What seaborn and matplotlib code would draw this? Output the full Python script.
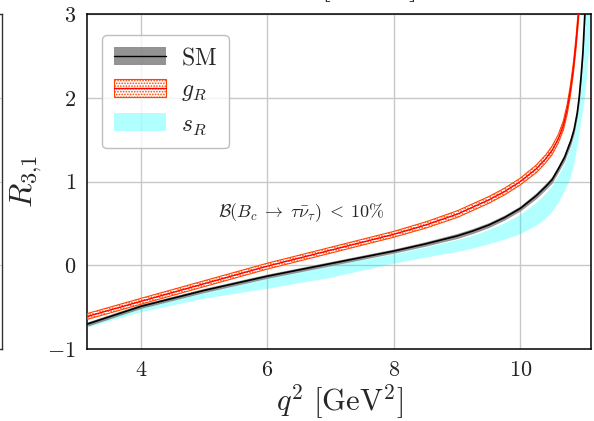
import numpy as np
import pandas as pd
import matplotlib
matplotlib.use("Agg")
import matplotlib.pyplot as plt
from matplotlib.patches import Patch
from matplotlib.lines import Line2D
import seaborn as sns

# ---- data: R_{3,1}(q^2) for the SM and the two NP couplings ----
q2_sm = [3.157, 4.0, 5.0, 6.0, 7.0, 8.0, 8.5, 9.0, 9.25, 9.5, 9.75, 10.0,
         10.25, 10.4, 10.5, 10.6, 10.7, 10.8, 10.85, 10.9, 10.93, 10.96,
         10.99, 11.02, 11.05]
r_sm = [-0.70, -0.49, -0.30, -0.13, 0.02, 0.17, 0.255, 0.35, 0.41, 0.48,
        0.57, 0.68, 0.83, 0.94, 1.02, 1.15, 1.29, 1.49, 1.62, 1.82, 2.0,
        2.25, 2.55, 3.0, 3.6]
r_sm_err = [0.025, 0.025, 0.025, 0.025, 0.025, 0.025, 0.027, 0.03, 0.03,
            0.03, 0.03, 0.03, 0.035, 0.037, 0.04, 0.04, 0.045, 0.05, 0.05,
            0.055, 0.06, 0.065, 0.07, 0.08, 0.09]

q2_gr = [3.157, 4.0, 5.0, 6.0, 7.0, 8.0, 8.5, 9.0, 9.5, 9.75, 10.0, 10.25,
         10.4, 10.5, 10.6, 10.68, 10.74, 10.79, 10.84, 10.88, 10.92, 10.96]
r_gr = [-0.61, -0.43, -0.22, -0.01, 0.18, 0.37, 0.48, 0.61, 0.78, 0.88,
        1.0, 1.15, 1.27, 1.37, 1.51, 1.67, 1.86, 2.08, 2.36, 2.65, 3.0, 3.5]
r_gr_err = [0.035, 0.035, 0.035, 0.035, 0.035, 0.035, 0.037, 0.04, 0.04,
            0.04, 0.04, 0.045, 0.047, 0.05, 0.05, 0.055, 0.06, 0.062,
            0.065, 0.07, 0.08, 0.09]

q2_sr = [3.157, 4.0, 5.0, 6.0, 7.0, 8.0, 8.5, 9.0, 9.25, 9.5, 9.75, 10.0,
         10.25, 10.4, 10.5, 10.6, 10.7, 10.8, 10.85, 10.9, 10.93, 10.96,
         10.99, 11.02, 11.045, 11.07, 11.09, 11.11]
r_sr_lo = [-0.745, -0.56, -0.40, -0.28, -0.15, 0.02, 0.09, 0.16, 0.20, 0.25,
           0.305, 0.37, 0.47, 0.555, 0.63, 0.74, 0.88, 1.05, 1.2, 1.4, 1.53,
           1.7, 1.84, 2.0, 2.18, 2.4, 2.6, 2.85]
r_sr_hi = [-0.69, -0.50, -0.32, -0.15, -0.01, 0.13, 0.21, 0.30, 0.35, 0.42,
           0.50, 0.60, 0.74, 0.85, 0.94, 1.06, 1.2, 1.4, 1.53, 1.72, 1.88,
           2.1, 2.4, 2.85, 3.3, 3.8, 4.2, 4.6]

xticks = [4, 6, 8, 10]
yticks = [-1, 0, 1, 2, 3]

sns.set_style("white")
plt.rcParams.update({
    "font.family": ["serif"],
    "font.serif": ["cmr10", "DejaVu Serif"],
    "mathtext.fontset": "cm",
    "axes.formatter.use_mathtext": True,
    "hatch.linewidth": 0.8,
    "axes.unicode_minus": True,
})

fig = plt.figure(figsize=(5.94, 4.21), dpi=100)

# neighbouring panel (only its right edge falls inside the figure)
axn = fig.add_axes([-0.85, 0.171, 0.8534, 0.7957])
axn.set_xlim(0, 1)
axn.set_ylim(-1, 3)
axn.set_yticks(yticks)
axn.grid(True, axis="y", color="#d0d0d0", lw=0.8)
axn.tick_params(length=0, labelleft=False, labelbottom=False)
for s in axn.spines.values():
    s.set_color("#333333")
    s.set_linewidth(1.0)

ax = fig.add_axes([0.1465, 0.171, 0.8485, 0.7957])

sm = pd.DataFrame({"q2": q2_sm, "R": r_sm, "err": r_sm_err})
gr = pd.DataFrame({"q2": q2_gr, "R": r_gr, "err": r_gr_err})
sr = pd.DataFrame({"q2": q2_sr, "lo": r_sr_lo, "hi": r_sr_hi})

ax.fill_between(sr["q2"], sr["lo"], sr["hi"], color="cyan", alpha=0.3,
                lw=0, zorder=1)
ax.fill_between(sm["q2"], sm["R"] - sm["err"], sm["R"] + sm["err"],
                color="gray", alpha=0.85, lw=0, zorder=2)
ax.fill_between(gr["q2"], gr["R"] - gr["err"], gr["R"] + gr["err"],
                facecolor="white", edgecolor="orangered", hatch="......",
                lw=0.8, zorder=3)
sns.lineplot(data=sm, x="q2", y="R", color="black", lw=1.2, ax=ax,
             zorder=4, sort=False)
sns.lineplot(data=gr, x="q2", y="R", color="red", lw=1.0, ax=ax,
             zorder=5, sort=False)

ax.set_xlim(3.146, 11.118)
ax.set_ylim(-1, 3)
ax.set_xticks(xticks)
ax.set_yticks(yticks)
ax.grid(True, color="#c8c8c8", lw=1.0)
ax.set_axisbelow(True)
ax.tick_params(axis="both", direction="out", length=4, width=1.0,
               labelsize=16, pad=4, colors="black")
ax.tick_params(axis="both", labelcolor="#222222")
for s in ax.spines.values():
    s.set_color("black")
    s.set_linewidth(1.1)

ax.set_xlabel(r"$q^2\ [\mathrm{GeV}^2]$", fontsize=22, labelpad=2)
ax.set_ylabel(r"$R_{3{,}1}$", fontsize=23, labelpad=2)

ax.text(6.53, 0.63,
        r"$\mathcal{B}(B_c \;\to\; \tau\bar{\nu}_\tau)\;<\;10\%$",
        fontsize=13, ha="center", va="center")

handles = [
    (Patch(facecolor="gray", alpha=0.85, lw=0),
     Line2D([], [], color="black", lw=1.0)),
    (Patch(facecolor="white", edgecolor="orangered", hatch="......", lw=0.8),
     Line2D([], [], color="red", lw=1.0)),
    Patch(facecolor="cyan", alpha=0.3, lw=0),
]
labels = [r"$\mathrm{SM}$", r"$g_R$", r"$s_R$"]
leg = ax.legend(handles, labels, loc="upper left",
                bbox_to_anchor=(0.006, 0.972),
                fontsize=17, frameon=True, fancybox=True, framealpha=0.8,
                edgecolor="#b0b0b0", handlelength=2.2, handleheight=0.8,
                labelspacing=0.42, borderpad=0.5, handletextpad=0.65)
leg.get_frame().set_linewidth(1.0)

# figure title sitting above the top edge
fig.text(0.5875, 1.012, r"$q^2\ [\mathrm{GeV}^2]$", fontsize=23,
         ha="center", va="baseline")

fig.savefig("out.png", dpi=100)
